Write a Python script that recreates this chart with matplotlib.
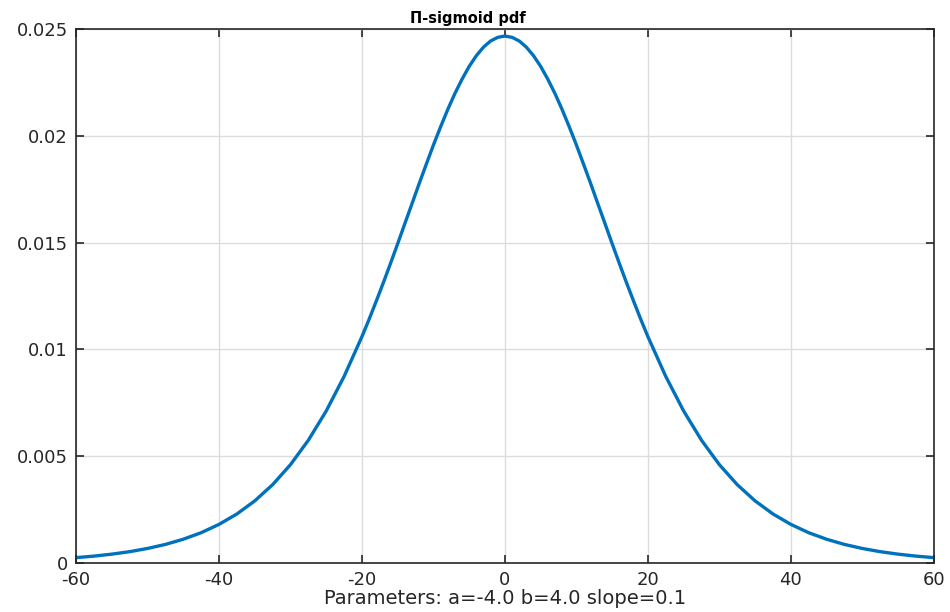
import numpy as np
import matplotlib
matplotlib.use("Agg")
import matplotlib.pyplot as plt

# values (symmetric about 0)
x_half = [0, 1, 2, 3, 4, 5, 6, 7, 8, 9, 10, 11, 12, 13, 14, 15, 16, 17, 18,
          19, 20, 22.5, 25, 27.5, 30, 32.5, 35, 37.5, 40, 42.5, 45, 47.5,
          50, 52.5, 55, 57.5, 60]
pdf_half = [0.02467, 0.02461, 0.02444, 0.02415, 0.02375, 0.02325, 0.02265,
            0.02198, 0.02123, 0.02042, 0.01957, 0.01867, 0.01776, 0.01682,
            0.01589, 0.01495, 0.01403, 0.01313, 0.01226, 0.01141, 0.01060,
            0.008735, 0.007118, 0.005748, 0.004605, 0.003668, 0.002908,
            0.002296, 0.001809, 0.001419, 0.001114, 0.000871, 0.000682,
            0.000532, 0.000416, 0.000324, 0.000253]

x = [-v for v in x_half[:0:-1]] + x_half
pdf = pdf_half[:0:-1] + pdf_half

xticks = [-60, -40, -20, 0, 20, 40, 60]
yticks = [0, 0.005, 0.01, 0.015, 0.02, 0.025]
yticklabels = ["0", "0.005", "0.01", "0.015", "0.02", "0.025"]

title = "\u03a0-sigmoid pdf"
xlabel = "Parameters: a=-4.0 b=4.0 slope=0.1"

fig = plt.figure(figsize=(9.5, 6.12), dpi=100)
ax = fig.add_axes([0.08, 0.080, 0.903, 0.8726])

ax.plot(x, pdf, color="#0072BD", linewidth=2.4, solid_joinstyle="round")

ax.set_xlim(-60, 60)
ax.set_ylim(0, 0.025)
ax.set_xticks(xticks)
ax.set_xticklabels([str(t) for t in xticks])
ax.set_yticks(yticks)
ax.set_yticklabels(yticklabels)

ax.grid(True, color="#dcdcdc", linewidth=1.0)
ax.set_axisbelow(True)
ax.tick_params(direction="in", length=6, width=1.2, colors="#262626",
               labelsize=13, top=True, right=True, labeltop=False,
               labelright=False)
ax.tick_params(axis="x", pad=6)
ax.tick_params(axis="y", pad=6)
for s in ax.spines.values():
    s.set_color("#262626")
    s.set_linewidth(1.2)

ax.set_title(title, fontsize=10.5, fontweight="bold", color="black",
             pad=4, x=0.457)
ax.set_xlabel(xlabel, fontsize=14, color="#262626", labelpad=0)

fig.savefig("out.png", dpi=100)
